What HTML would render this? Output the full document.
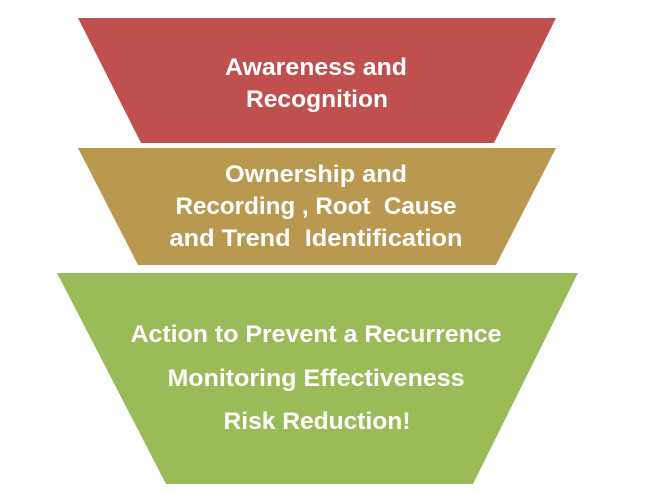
<!DOCTYPE html>
<html><head><style>html,body{margin:0;padding:0;background:#fff;}svg{display:block}text{white-space:pre}</style></head>
<body>
<svg width="650" height="494" viewBox="0 0 650 494" xmlns="http://www.w3.org/2000/svg">
<polygon points="78,18 556,18 494,143 141,143" fill="#c0504d"/>
<polygon points="78,148 556,148 496,265 138,265" fill="#bb9850"/>
<polygon points="57,273 578,273 473,484 166,484" fill="#9bbb59"/>
<g fill="#fff" font-family="Liberation Sans, sans-serif" font-weight="bold" font-size="24" text-anchor="middle">
<text x="316" y="75" textLength="182" lengthAdjust="spacingAndGlyphs">Awareness and</text>
<text x="317" y="107" textLength="142" lengthAdjust="spacingAndGlyphs">Recognition</text>
<text x="316" y="182" textLength="182" lengthAdjust="spacingAndGlyphs">Ownership and</text>
<text x="316" y="214" textLength="281" lengthAdjust="spacingAndGlyphs">Recording , Root  Cause</text>
<text x="316" y="246" textLength="293" lengthAdjust="spacingAndGlyphs">and Trend  Identification</text>
<text x="316" y="342" textLength="371" lengthAdjust="spacingAndGlyphs">Action to Prevent a Recurrence</text>
<text x="316" y="386" textLength="297" lengthAdjust="spacingAndGlyphs">Monitoring Effectiveness</text>
<text x="317" y="429" textLength="187" lengthAdjust="spacingAndGlyphs">Risk Reduction!</text>
</g>
</svg>
</body></html>
